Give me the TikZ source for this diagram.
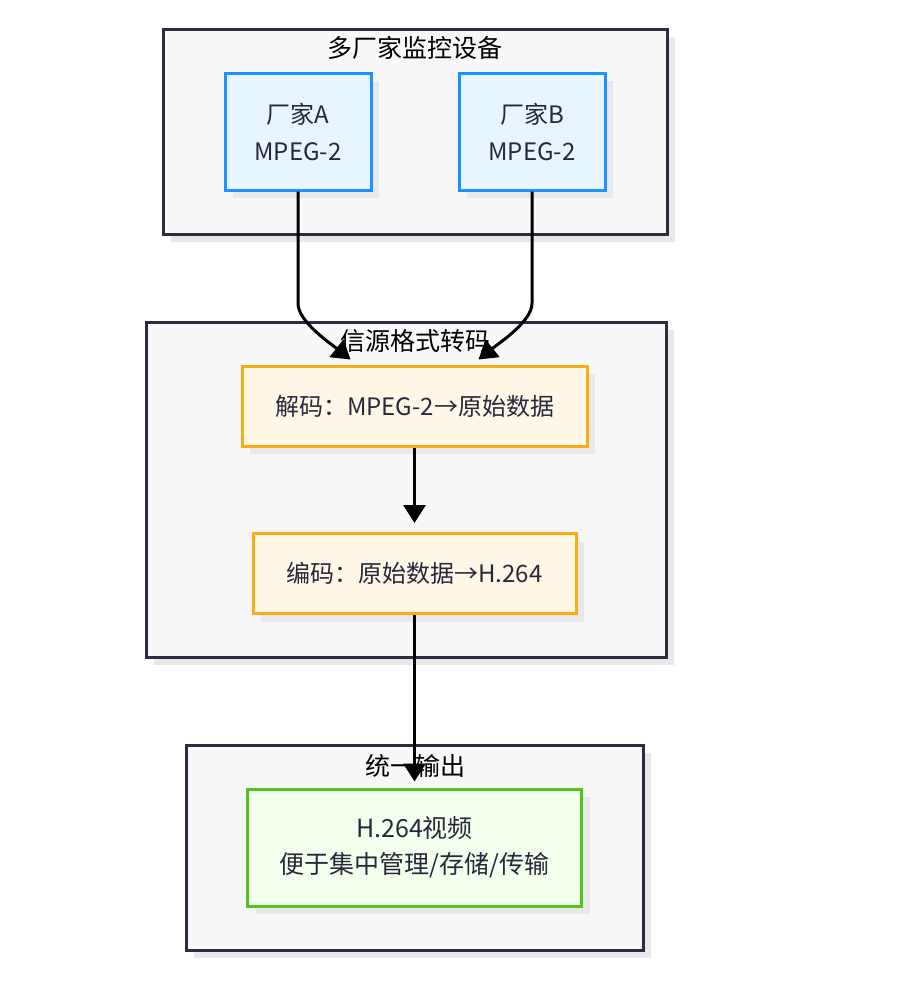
\documentclass[tikz,border=0pt]{standalone}
\usepackage{fontspec}
\setmainfont{Noto Sans CJK SC}
\usepackage{tikz}
\usetikzlibrary{%
  positioning
 ,arrows.meta
 ,calc
 ,shadows
}
\definecolor{grpfill}{RGB}{248,248,251}
\definecolor{grpline}{RGB}{45,45,66}
\definecolor{shade}{RGB}{232,232,235}
\definecolor{txt}{RGB}{40,40,60}
\definecolor{bluefill}{RGB}{230,245,255}
\definecolor{blueline}{RGB}{30,144,255}
\definecolor{orgfill}{RGB}{255,248,230}
\definecolor{orgline}{RGB}{250,173,20}
\definecolor{grnfill}{RGB}{244,255,237}
\definecolor{grnline}{RGB}{82,196,26}
\tikzstyle{shd}=[drop shadow={shadow xshift=4pt,shadow yshift=-4pt,fill=shade,opacity=1}]
\tikzstyle{grp}=[rectangle,draw=grpline,fill=grpfill,line width=1.5pt,inner sep=0pt,shd]
\tikzstyle{grptitle}=[font=\fontsize{12.5}{14}\selectfont,text=black,inner sep=1pt]
\tikzstyle{box}=[rectangle,line width=1.5pt,align=center,text=txt,font=\fontsize{12}{18.5}\selectfont,inner sep=0pt,shd]
\tikzstyle{src}=[box,draw=blueline,fill=bluefill,minimum width=73pt,minimum height=58.5pt]
\tikzstyle{conv}=[box,draw=orgline,fill=orgfill,minimum height=40pt]
\tikzstyle{res}=[box,draw=grnline,fill=grnfill,minimum width=167pt,minimum height=58.5pt,font=\fontsize{12.5}{18}\selectfont]
\tikzstyle{flow}=[-{Triangle[length=9pt,width=11pt]},line width=1.5pt,black]

\begin{document}
\begin{tikzpicture}[x=0.5pt,y=-0.5pt]
  \useasboundingbox (0,0) rectangle (902,991);
  % groups
  \node[grp,minimum width=252pt,minimum height=102.5pt] (devs) at (415,131.5) {};
  \node[grptitle] (devs_t) at (415,48) {多厂家监控设备};
  \node[grp,minimum width=260pt,minimum height=167.5pt] (trans) at (406,489.5) {};
  \node[grptitle] (trans_t) at (415,341) {信源格式转码};
  \node[grp,minimum width=228.5pt,minimum height=102.5pt] (outg) at (414.5,847.5) {};
  \node[grptitle] (outg_t) at (415,766) {统一输出};
  % nodes
  \node[src] (srcA) at (298,131.5) {厂家A\\MPEG-2};
  \node[src] (srcB) at (532,131.5) {厂家B\\MPEG-2};
  \node[conv,minimum width=172.5pt] (dec) at (414.5,406) {解码：MPEG-2→原始数据};
  \node[conv,minimum width=161.5pt] (enc) at (414.5,573.5) {编码：原始数据→H.264};
  \node[res] (h264) at (414.5,847.5) {H.264视频\\便于集中管理/存储/传输};
  % edges
  \coordinate (inA) at ($(dec.north)+(-64,-5)$);
  \coordinate (inB) at ($(dec.north)+(64,-5)$);
  \draw[flow] (srcA.south) -- ++(0,112) .. controls +(0,18) and +(-20,-16) .. (inA);
  \draw[flow] (srcB.south) -- ++(0,112) .. controls +(0,18) and +(20,-16) .. (inB);
  \draw[flow,shorten >=4.5pt] (dec) -- (enc);
  \draw[flow,shorten >=3pt] (enc) -- (h264);
\end{tikzpicture}
\end{document}
